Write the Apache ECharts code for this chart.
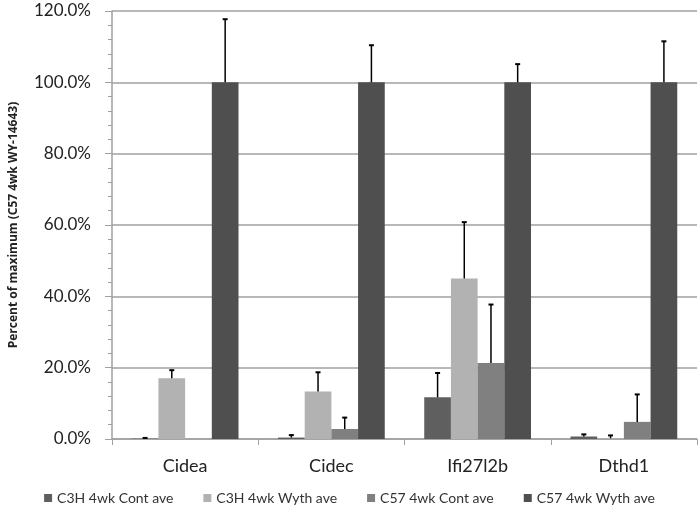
<!DOCTYPE html>
<html><head><meta charset="utf-8">
<script src="https://cdn.jsdelivr.net/npm/echarts@6/dist/echarts.min.js"></script>
<style>html,body{margin:0;padding:0;background:#fff}#c{width:699px;height:508px}</style>
</head><body><div id="c"></div>
<script>
const categories = ['Cidea', 'Cidec', 'Ifi27l2b', 'Dthd1'];
const seriesNames = ['C3H 4wk Cont ave', 'C3H 4wk Wyth ave', 'C57 4wk Cont ave', 'C57 4wk Wyth ave'];
const c3hCont = [0.001, 0.004, 0.117, 0.007];
const c3hWyth = [0.170, 0.133, 0.450, 0.002];
const c57Cont = [0.000, 0.028, 0.213, 0.048];
const c57Wyth = [1.000, 1.000, 1.000, 1.000];
const c3hContErrTop = [0.003, 0.011, 0.185, 0.013];
const c3hWythErrTop = [0.193, 0.187, 0.608, 0.010];
const c57ContErrTop = [0.000, 0.060, 0.377, 0.125];
const c57WythErrTop = [1.177, 1.104, 1.051, 1.115];
const yTicks = [0, 0.2, 0.4, 0.6, 0.8, 1.0, 1.2];

const values = [c3hCont, c3hWyth, c57Cont, c57Wyth];
const errTops = [c3hContErrTop, c3hWythErrTop, c57ContErrTop, c57WythErrTop];
const colors = ['#5f5f5f', '#b2b2b2', '#808080', '#4f4f4f'];
const gapRatio = 0.27;
const font = 'Lato, "Open Sans", sans-serif';

const chart = echarts.init(document.getElementById('c'));
const series = [];
values.forEach((v, i) => {
  series.push({
    name: seriesNames[i], type: 'bar', data: v, barGap: '0%', barCategoryGap: (gapRatio*100)+'%',
    itemStyle: {color: colors[i]}, z: 2
  });
});
values.forEach((v, i) => {
  series.push({
    type: 'custom', name: 'err' + i, z: 3, silent: true,
    data: v.map((val, k) => [k, val, errTops[i][k]]),
    renderItem: function (params, api) {
      const k = api.value(0);
      const catW = api.size([1, 0])[0];
      const bw = catW * (1 - gapRatio) / 4;
      const base = api.coord([k, api.value(1)]);
      const top = api.coord([k, api.value(2)]);
      const x = base[0] + (i - 1.5) * bw;
      if (api.value(2) <= api.value(1)) return null;
      return {type: 'group', children: [
        {type: 'line', shape: {x1: x, y1: base[1], x2: x, y2: top[1]}, style: {stroke: '#000', lineWidth: 1.5}},
        {type: 'line', shape: {x1: x - 2.5, y1: top[1], x2: x + 2.5, y2: top[1]}, style: {stroke: '#000', lineWidth: 2}}
      ]};
    }
  });
});

chart.setOption({
  animation: false,
  grid: {left: 104, right: 2, top: 11, bottom: 69},
  legend: {
    data: seriesNames, top: 486, left: 'center', itemWidth: 8, itemHeight: 8, itemGap: 30,
    icon: 'rect', textStyle: {fontFamily: font, fontSize: 14, color: '#333'}
  },
  xAxis: {
    type: 'category', data: categories,
    axisLine: {lineStyle: {color: '#a0a0a0', width: 1.5}},
    axisTick: {show: true, length: 6, lineStyle: {color: '#a0a0a0'}},
    axisLabel: {fontFamily: font, fontSize: 18, color: '#222', margin: 18}
  },
  yAxis: {
    type: 'value', min: 0, max: 1.2, interval: 0.2,
    name: 'Percent of maximum (C57 4wk WY-14643)', nameLocation: 'middle', nameGap: 92,
    nameTextStyle: {fontFamily: '"Open Sans", sans-serif', fontSize: 12, fontWeight: 'bold', color: '#222'},
    axisLine: {show: true, lineStyle: {color: '#a0a0a0', width: 1.5}},
    axisTick: {show: true, length: 7, lineStyle: {color: '#a0a0a0'}},
    minorTick: {show: true, splitNumber: 5, length: 4, lineStyle: {color: '#a0a0a0'}},
    splitLine: {show: true, lineStyle: {color: '#a0a0a0', width: 1.5}},
    axisLabel: {fontFamily: font, fontSize: 17, color: '#222', margin: 21,
      formatter: v => (v * 100).toFixed(1) + '%'}
  },
  series: series
});
</script></body></html>
